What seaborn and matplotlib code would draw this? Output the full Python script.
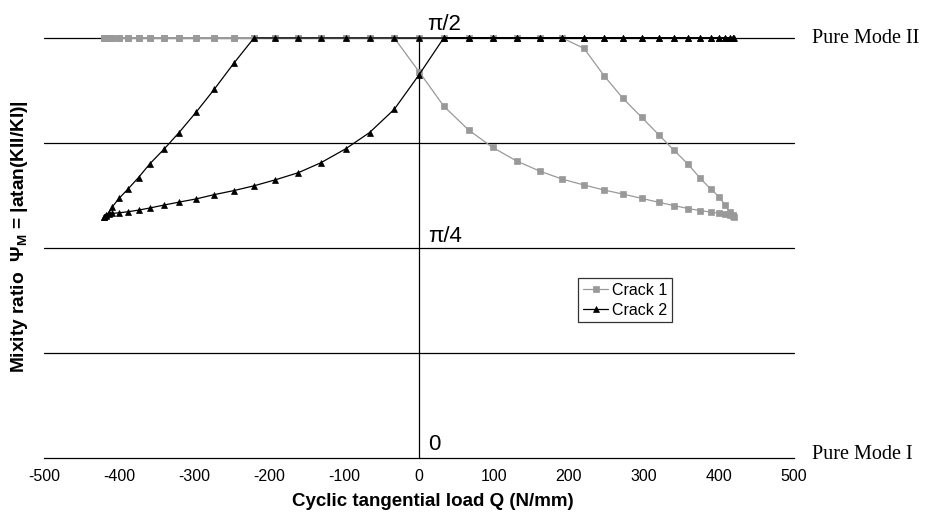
import numpy as np
import pandas as pd
import matplotlib
matplotlib.use("Agg")
import matplotlib.pyplot as plt
import seaborn as sns

# ---------------- data ----------------
# Cyclic tangential load Q (N/mm): loading branch (-420 -> 420) and unloading branch (420 -> -420)
Q_up = [-420, -418, -414, -409, -400, -388, -374, -359, -340, -320, -297, -273, -247, -220,
        -192, -161, -131, -98, -66, -33, 0, 33, 66, 98, 130, 161, 191, 220, 247, 272, 297,
        320, 340, 359, 375, 389, 400, 408, 414, 418, 420]
Q_down = [418, 414, 408, 400, 389, 375, 359, 340, 320, 297, 272, 247, 220, 191, 161, 130, 98,
          66, 33, 0, -33, -66, -98, -131, -161, -192, -220, -247, -273, -297, -320, -340, -359,
          -374, -388, -400, -409, -414, -418, -420]

# Mixity ratio (rad)
crack1_up = [1.571, 1.571, 1.571, 1.571, 1.571, 1.571, 1.571, 1.571, 1.571, 1.571,
             1.571, 1.571, 1.571, 1.571, 1.571, 1.571, 1.571, 1.571, 1.571, 1.571,
             1.445, 1.316, 1.227, 1.162, 1.111, 1.073, 1.043, 1.021, 1.002, 0.987, 0.971,
             0.956, 0.944, 0.933, 0.925, 0.920, 0.915, 0.913, 0.909, 0.905, 0.903]
crack1_down = [0.909, 0.921, 0.946, 0.977, 1.006, 1.046, 1.098, 1.151, 1.208, 1.274, 1.345,
               1.429, 1.532, 1.571, 1.571, 1.571, 1.571, 1.571, 1.571, 1.571, 1.571, 1.571,
               1.571, 1.571, 1.571, 1.571, 1.571, 1.571, 1.571, 1.571, 1.571, 1.571, 1.571,
               1.571, 1.571, 1.571, 1.571, 1.571, 1.571, 1.571]
crack2_up = [0.903, 0.906, 0.911, 0.915, 0.917, 0.921, 0.927, 0.935, 0.946, 0.957, 0.969,
             0.985, 1.000, 1.018, 1.040, 1.067, 1.104, 1.156, 1.217, 1.304, 1.433,
             1.571, 1.571, 1.571, 1.571, 1.571, 1.571, 1.571, 1.571, 1.571, 1.571,
             1.571, 1.571, 1.571, 1.571, 1.571, 1.571, 1.571, 1.571, 1.571, 1.571]
crack2_down = [1.571, 1.571, 1.571, 1.571, 1.571, 1.571, 1.571, 1.571, 1.571, 1.571, 1.571,
               1.571, 1.571, 1.571, 1.571, 1.571, 1.571, 1.571, 1.571, 1.571, 1.571, 1.571,
               1.571, 1.571, 1.571, 1.571, 1.571, 1.476, 1.379, 1.294, 1.217, 1.155, 1.100,
               1.049, 1.006, 0.971, 0.939, 0.917, 0.909, 0.903]

series_names = ["Crack 1", "Crack 2"]
x_ticks = [-500, -400, -300, -200, -100, 0, 100, 200, 300, 400, 500]
x_tick_labels = ["-500", "-400", "-300", "-200", "-100", "0", "100", "200", "300", "400", "500"]
ref_levels = [0, np.pi / 8, np.pi / 4, 3 * np.pi / 8, np.pi / 2]

# ---------------- style ----------------
sns.set_style("white")
plt.rcParams["font.family"] = ["Liberation Sans", "DejaVu Sans"]
plt.rcParams["mathtext.fontset"] = "custom"
plt.rcParams["mathtext.rm"] = "Liberation Sans:bold"
plt.rcParams["mathtext.bf"] = "Liberation Sans:bold"
plt.rcParams["mathtext.it"] = "Liberation Sans:bold"
plt.rcParams["axes.unicode_minus"] = False
plt.rcParams["text.color"] = "black"
plt.rcParams["xtick.color"] = "black"
plt.rcParams["xtick.labelcolor"] = "black"

fig = plt.figure(figsize=(9.41, 5.16), dpi=100)
ax = fig.add_axes([44 / 941, 58 / 516, 750 / 941, 420 / 516])

# reference lines
for v in ref_levels[1:]:
    ax.axhline(v, color="black", lw=0.9, zorder=1)
ax.axvline(0, color="black", lw=0.9, zorder=1)

df1 = pd.DataFrame({"Q": Q_up + Q_down, "psi": crack1_up + crack1_down})
df2 = pd.DataFrame({"Q": Q_up + Q_down, "psi": crack2_up + crack2_down})

sns.lineplot(data=df1, x="Q", y="psi", sort=False, estimator=None, ax=ax,
             color="#999999", marker="s", markersize=4.2, markeredgecolor="#999999",
             markeredgewidth=0.5, linewidth=0.9, label=series_names[0], zorder=3)
sns.lineplot(data=df2, x="Q", y="psi", sort=False, estimator=None, ax=ax,
             color="black", marker="^", markersize=4.6, markeredgecolor="black",
             markeredgewidth=0.5, linewidth=0.9, label=series_names[1], zorder=4)
for ln in ax.lines:
    ln.set_clip_on(False)

ax.set_xlim(-500, 500)
ax.set_ylim(0, np.pi / 2)
ax.set_xticks(x_ticks)
ax.set_xticklabels(x_tick_labels)
ax.set_yticks([])
ax.set_xlabel("")
ax.set_ylabel("")
for s in ["left", "top", "right"]:
    ax.spines[s].set_visible(False)
ax.spines["bottom"].set_color("black")
ax.spines["bottom"].set_linewidth(0.9)
ax.tick_params(axis="x", direction="out", length=4, width=0.9, colors="black",
               labelsize=11.5, pad=4)

# angle labels
ax.text(11, np.pi / 2 * 1.019, "π/2", fontsize=16, va="baseline", ha="left")
ax.text(12, np.pi / 2 * 0.514, "π/4", fontsize=16, va="baseline", ha="left")
ax.text(12, np.pi / 2 * 0.019, "0", fontsize=16, va="baseline", ha="left")
serif = ["Liberation Serif", "DejaVu Serif"]
ax.text(524, np.pi / 2, "Pure Mode II", family=serif, fontsize=14.5, va="center", ha="left",
        clip_on=False)
ax.text(524, np.pi / 2 * 0.008, "Pure Mode I", family=serif, fontsize=14.5, va="center",
        ha="left", clip_on=False)

# axis titles
fig.text(433 / 941, 1 - 502 / 516, "Cyclic tangential load Q (N/mm)", ha="center",
         va="center", fontsize=13.5, fontweight="bold")
fig.text(20 / 941, 1 - 237 / 516, r"Mixity ratio  $\Psi_{M}$ = |atan(KII/KI)|",
         ha="center", va="center", rotation=90, fontsize=13.8, fontweight="bold")

leg = ax.legend(loc="upper left", bbox_to_anchor=((578 - 44) / 750, (458 - 278) / 420),
                borderaxespad=0, frameon=True, fancybox=False, fontsize=11.5,
                handlelength=1.6, handletextpad=0.2, borderpad=0.3, labelspacing=0.3)
leg.get_frame().set_edgecolor("black")
leg.get_frame().set_linewidth(0.9)
for t in leg.get_texts():
    t.set_color("black")

fig.savefig("out.png", dpi=100)
